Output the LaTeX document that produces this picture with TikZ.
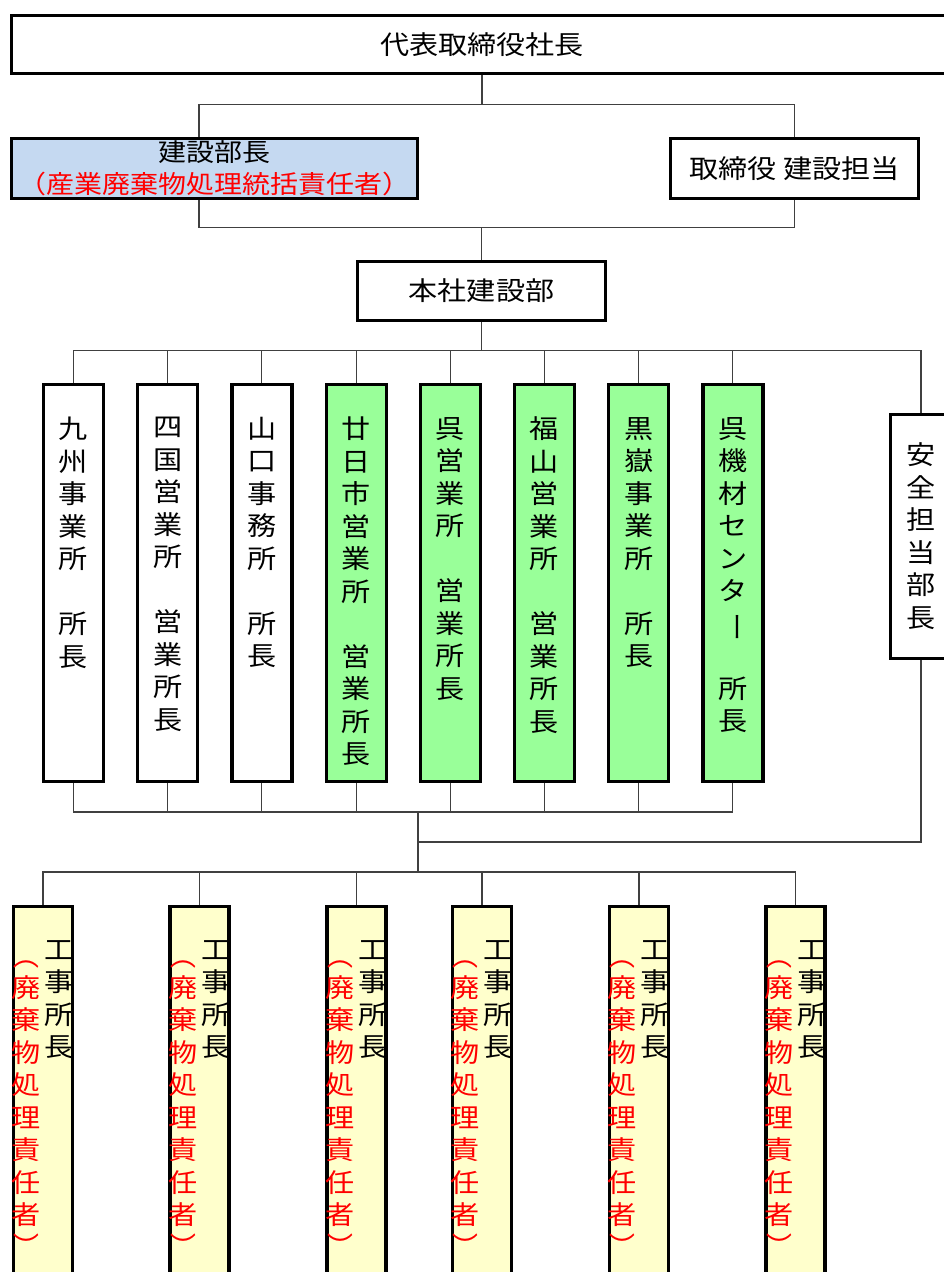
\documentclass[tikz,border=0pt]{standalone}
\usepackage{fontspec}
\setmainfont{Noto Sans CJK JP}[FakeStretch=1.12]
\definecolor{mgrblue}{RGB}{197,217,241}
\definecolor{officegreen}{RGB}{153,255,153}
\definecolor{siteyellow}{RGB}{255,255,204}
\tikzset{
	box/.style={draw, line width=3.2pt, inner sep=0pt, font=\fontsize{26}{32.5}\selectfont},
	vtext/.style={inner sep=0pt, align=center, anchor=north, font=\fontsize{26}{32.5}\selectfont},
	link/.style={draw=black!75, line width=1.1pt}
}

\begin{document}
\begin{tikzpicture}[x=1pt, y=-1pt]
	\useasboundingbox (0,0) rectangle (944,1272);
	\clip (0,0) rectangle (944,1272);
	\node[box, minimum width=941pt, minimum height=58pt] (ceo) at (482,44.5) {代表取締役社長};
	\node[box, fill=mgrblue, minimum width=406pt, minimum height=60pt, align=center, font=\fontsize{25}{32}\selectfont] (buildmgr) at (214.5,168.5) {建設部長\\\textcolor{red}{（産業廃棄物処理統括責任者）}};
	\node[box, minimum width=248pt, minimum height=60pt] (director) at (794.5,168.5) {取締役 建設担当};
	\node[box, minimum width=248pt, minimum height=59pt] (hq) at (481.5,291) {本社建設部};
	\node[box, minimum width=61pt, minimum height=244pt] (safety) at (921,536.5) {};
	\node[vtext] (safetyT) at ([yshift=-30pt]safety.north) {安\\全\\担\\当\\部\\長};
	\foreach \i/\txt/\col in {
		0/{九\\州\\事\\業\\所\\　\\所\\長}/white,
		1/{四\\国\\営\\業\\所\\　\\営\\業\\所\\長}/white,
		2/{山\\口\\事\\務\\所\\　\\所\\長}/white,
		3/{廿\\日\\市\\営\\業\\所\\　\\営\\業\\所\\長}/officegreen,
		4/{呉\\営\\業\\所\\　\\営\\業\\所\\長}/officegreen,
		5/{福\\山\\営\\業\\所\\　\\営\\業\\所\\長}/officegreen,
		6/{黒\\嶽\\事\\業\\所\\　\\所\\長}/officegreen,
		7/{呉\\機\\材\\セ\\ン\\タ\\\rotatebox[origin=c]{-90}{ー}\\　\\所\\長}/officegreen}
	{
		\node[box, fill=\col, minimum width=60pt, minimum height=397pt] (office\i) at ({73.5+94.2*\i},583) {};
		\node[vtext] (officeT\i) at ([yshift=-34pt]office\i.north) {\txt};
	}
	\foreach \n/\x in {1/43,2/199.5,3/356.5,4/482,5/639,6/795.5}
	{
		\node[box, fill=siteyellow, minimum width=59pt, minimum height=397pt] (site\n) at (\x,1105) {};
		\node[vtext] (siteT\n) at ([xshift=16.5pt, yshift=-35pt]site\n.north) {工\\事\\所\\長};
		\node[vtext, text=red] (siteR\n) at ([xshift=-16.5pt, yshift=-35pt]site\n.north) {\rotatebox[origin=c]{-90}{（}\\廃\\棄\\物\\処\\理\\責\\任\\者\\\rotatebox[origin=c]{-90}{）}};
	}
	\coordinate (topbus) at ([yshift=-29pt]ceo.south);
	\coordinate (midbus) at ([yshift=32pt]hq.north);
	\coordinate (officebus) at ([yshift=-28pt]hq.south);
	\coordinate (lowbus) at (418,812);
	\coordinate (safetybus) at (418,842);
	\coordinate (sitebus) at (418,872);
	\draw[link] (ceo.south) -- (topbus);
	\draw[link] ([xshift=-15.5pt]buildmgr.north) |- (topbus) -| (director.north);
	\draw[link] ([xshift=-15.5pt]buildmgr.south) |- (midbus) -| (director.south);
	\draw[link] (midbus) -- (hq.north);
	\draw[link] (hq.south) -- (officebus);
	\draw[link] (office0.north) |- (officebus) -| (safety.north);
	\foreach \i in {1,...,7}
	\draw[link] (office\i.north) -- (office\i.north |- officebus);
	\draw[link] (office0.south) |- (lowbus) -| (office7.south);
	\foreach \i in {1,...,6}
	\draw[link] (office\i.south) -- (office\i.south |- lowbus);
	\draw[link] (safety.south) |- (safetybus);
	\draw[link] (lowbus) -- (sitebus);
	\draw[link] (site1.north) |- (sitebus) -| (site6.north);
	\foreach \n in {2,...,5}
	\draw[link] (site\n.north) -- (site\n.north |- sitebus);
\end{tikzpicture}
\end{document}
